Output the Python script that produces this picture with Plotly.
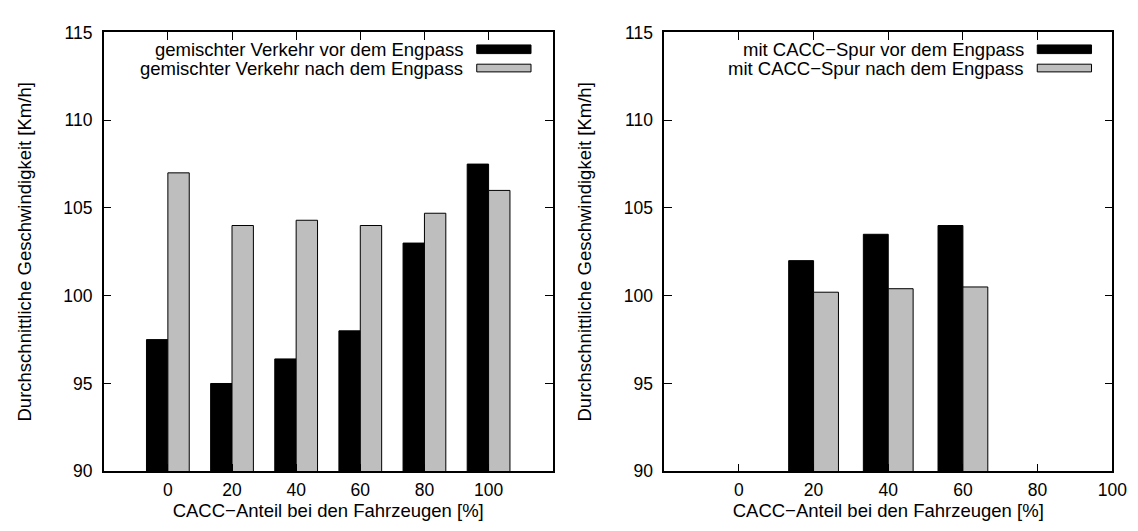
import plotly.graph_objects as go
from plotly.subplots import make_subplots

# ---- data ----
categories = ["0", "20", "40", "60", "80", "100"]
mixed_before = [97.5, 95.0, 96.4, 98.0, 103.0, 107.5]
mixed_after = [107.0, 104.0, 104.3, 104.0, 104.7, 106.0]

lane_categories = ["0", "20", "40", "60", "80", "100"]
lane_before = [0, 102.0, 103.5, 104.0, 0]
lane_after = [0, 100.2, 100.4, 100.5, 0]

y_ticks = [90, 95, 100, 105, 110, 115]

legend_left = ["gemischter Verkehr vor dem Engpass", "gemischter Verkehr nach dem Engpass"]
legend_right = ["mit CACC\u2212Spur vor dem Engpass", "mit CACC\u2212Spur nach dem Engpass"]
x_title = "CACC\u2212Anteil bei den Fahrzeugen [%]"
y_title = "Durchschnittliche Geschwindigkeit [Km/h]"

# ---- style ----
W, H = 1138, 531
FONT = "Liberation Sans, Arial, sans-serif"
BLACK = "#000000"
GRAY = "#bebebe"
FS_TICK = 17.5
FS_TEXT = 18.5

def px_x(p):
    return p / W

def px_y(p):
    return 1 - p / H

left_dom = [px_x(97), px_x(552)]
right_dom = [px_x(665), px_x(1119)]
y_dom = [px_y(471), px_y(15)]

fig = make_subplots(rows=1, cols=2)

idx_left = list(range(len(mixed_before)))
idx_right = list(range(len(lane_before)))

fig.add_trace(go.Bar(x=idx_left, y=mixed_before, marker=dict(color=BLACK, line=dict(color=BLACK, width=1)),
                     showlegend=False), row=1, col=1)
fig.add_trace(go.Bar(x=idx_left, y=mixed_after, marker=dict(color=GRAY, line=dict(color=BLACK, width=1)),
                     showlegend=False), row=1, col=1)
fig.add_trace(go.Bar(x=idx_right, y=lane_before, marker=dict(color=BLACK, line=dict(color=BLACK, width=1)),
                     showlegend=False), row=1, col=2)
fig.add_trace(go.Bar(x=idx_right, y=lane_after, marker=dict(color=GRAY, line=dict(color=BLACK, width=1)),
                     showlegend=False), row=1, col=2)

axis_common = dict(showline=True, linecolor=BLACK, linewidth=1.5, mirror="ticks", ticks="inside",
                   ticklen=8, tickwidth=1, tickcolor=BLACK, showgrid=False, zeroline=False,
                   tickfont=dict(family=FONT, size=FS_TICK, color=BLACK))

fig.update_xaxes(**axis_common)
fig.update_yaxes(**axis_common)

fig.update_xaxes(row=1, col=1, domain=left_dom, range=[-1, 6], tickmode="array",
                 tickvals=list(range(len(categories))), ticktext=categories, ticklabelstandoff=2,
                 title=dict(text=x_title, font=dict(family=FONT, size=FS_TEXT, color=BLACK), standoff=4))
fig.update_xaxes(row=1, col=2, domain=right_dom, range=[-1, 5], tickmode="array",
                 tickvals=list(range(len(lane_categories))), ticktext=lane_categories, ticklabelstandoff=2,
                 title=dict(text=x_title, font=dict(family=FONT, size=FS_TEXT, color=BLACK), standoff=4))
for c in (1, 2):
    fig.update_yaxes(row=1, col=c, domain=y_dom, range=[90, 115], tickmode="array", tickvals=y_ticks,
                     ticklabelstandoff=6,
                     title=dict(text=y_title, font=dict(family=FONT, size=FS_TEXT, color=BLACK), standoff=27))

# manual gnuplot-style keys (text right-aligned, sample box on the right)
def add_key(labels, text_right, box_l, box_r):
    rows = [(28, 37, BLACK), (48, 56, GRAY)]
    for lab, (t, b, col) in zip(labels, rows):
        fig.add_annotation(xref="paper", yref="paper", x=px_x(text_right), y=px_y((t + b) / 2),
                           text=lab, showarrow=False, xanchor="right", yanchor="middle",
                           font=dict(family=FONT, size=FS_TEXT, color=BLACK))
        fig.add_shape(type="rect", xref="paper", yref="paper", x0=px_x(box_l), x1=px_x(box_r),
                      y0=px_y(b), y1=px_y(t), fillcolor=col, line=dict(color=BLACK, width=1))

add_key(legend_left, 463, 475, 530)
add_key(legend_right, 1032, 1043, 1098)

fig.update_layout(width=W, height=H, margin=dict(l=0, r=0, t=0, b=0), barmode="group",
                  bargap=1/3, bargroupgap=0, plot_bgcolor="white", paper_bgcolor="white",
                  font=dict(family=FONT, size=FS_TEXT, color=BLACK))

fig.write_html("out.html")
